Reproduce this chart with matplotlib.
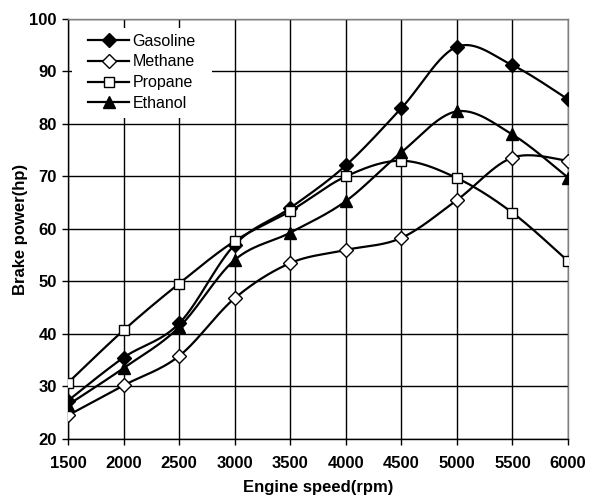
import matplotlib
matplotlib.use("Agg")
import matplotlib.pyplot as plt
from matplotlib.patches import Rectangle
import numpy as np

plt.rcParams['font.family'] = ['Liberation Sans', 'DejaVu Sans']

speed = [1500, 2000, 2500, 3000, 3500, 4000, 4500, 5000, 5500, 6000]
gasoline = [27.3, 35.5, 42.0, 57.0, 64.0, 72.1, 83.0, 94.7, 91.2, 84.7]
methane = [24.5, 30.2, 35.8, 46.8, 53.5, 56.0, 58.3, 65.5, 73.6, 73.0]
propane = [30.7, 40.7, 49.6, 57.7, 63.4, 70.0, 73.0, 69.7, 63.1, 53.9]
ethanol = [26.5, 33.5, 41.3, 54.1, 59.3, 65.3, 74.6, 82.4, 78.0, 69.8]


def smooth(x, y, n=30):
    # Excel-like smoothed line: cubic bezier with Catmull-Rom tangents
    x = np.asarray(x, float)
    y = np.asarray(y, float)
    P = np.column_stack([x, y])
    out = [P[0]]
    t = np.linspace(0, 1, n)[1:, None]
    for i in range(len(P) - 1):
        p0 = P[i - 1] if i > 0 else P[i]
        p3 = P[i + 2] if i + 2 < len(P) else P[i + 1]
        b0 = P[i]
        b3 = P[i + 1]
        b1 = b0 + (b3 - p0) / 6
        b2 = b3 - (p3 - b0) / 6
        seg = ((1 - t) ** 3) * b0 + 3 * ((1 - t) ** 2) * t * b1 + 3 * (1 - t) * t ** 2 * b2 + t ** 3 * b3
        out.extend(seg)
    out = np.array(out)
    return out[:, 0], out[:, 1]


fig = plt.figure(figsize=(5.89, 4.97), dpi=100)
ax = fig.add_axes([0.1154, 0.1167, 0.8489, 0.8451])

series = [
    ('Gasoline', gasoline, dict(marker='D', markersize=7, markerfacecolor='black')),
    ('Methane', methane, dict(marker='D', markersize=7, markerfacecolor='white')),
    ('Propane', propane, dict(marker='s', markersize=7, markerfacecolor='white')),
    ('Ethanol', ethanol, dict(marker='^', markersize=8, markerfacecolor='black')),
]

for name, vals, style in series:
    sx, sy = smooth(speed, vals)
    ax.plot(sx, sy, color='black', lw=1.6, zorder=3)
    ax.plot(speed, vals, ls='none', color='black', markeredgecolor='black',
            markeredgewidth=1.0, zorder=4, **style)
    ax.plot([], [], color='black', lw=1.6, markeredgecolor='black',
            markeredgewidth=1.0, label=name, **style)

ax.set_xlim(1500, 6000)
ax.set_ylim(20, 100)
ax.set_xticks(speed)
ax.set_yticks(np.arange(20, 101, 10))
ax.grid(True, color='black', lw=1.0)
ax.set_axisbelow(True)
for s in ax.spines.values():
    s.set_color('black')
    s.set_linewidth(1.0)
ax.spines['top'].set_color('#808080')
ax.spines['right'].set_color('#808080')
ax.tick_params(direction='out', length=4, width=1.0, labelsize=12)
ax.tick_params(axis='x', pad=8)
ax.tick_params(axis='y', pad=4)
for lab in ax.get_xticklabels() + ax.get_yticklabels():
    lab.set_fontweight('bold')

ax.set_xlabel('Engine speed(rpm)', fontsize=12, fontweight='bold', labelpad=7)
ax.set_ylabel('Brake power(hp)', fontsize=12, fontweight='bold', labelpad=1)

# white legend box that hides the grid behind it
ax.add_patch(Rectangle((0.008, 1 - 99 / 420), 0.28, 90 / 420, transform=ax.transAxes,
                       facecolor='white', edgecolor='none', zorder=2))

leg = ax.legend(loc='upper left', bbox_to_anchor=(0.04, 0.965), frameon=False,
                fontsize=11.5, handlelength=2.6, handletextpad=0.2,
                labelspacing=0.36, borderpad=0, borderaxespad=0)
leg.set_zorder(5)

plt.savefig('out.png', dpi=100)
plt.close()
